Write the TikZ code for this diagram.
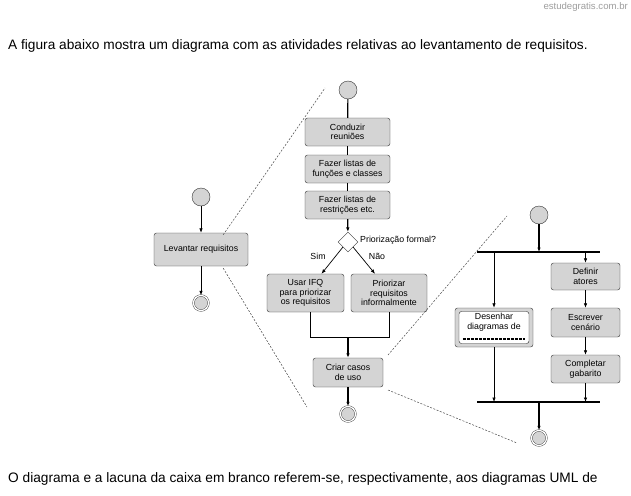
\documentclass[tikz,border=0pt]{standalone}
\usepackage{fontspec}
\setmainfont{Liberation Sans}
\usetikzlibrary{arrows.meta,shapes.geometric,positioning}

\tikzset{
    atividade/.style={draw=black!80, fill=black!17, rounded corners=2.5pt, align=center,
        font=\fontsize{8.8}{9.6}\selectfont, inner sep=1pt},
    inicio/.style={circle, draw=black!80, fill=black!17, minimum size=18pt, inner sep=0pt},
    fim/.style={circle, draw=black!80, double=white, double distance=1.3pt, fill=black!17,
        minimum size=15pt, inner sep=0pt},
    decisao/.style={diamond, draw=black!80, fill=white, minimum size=20pt, inner sep=0pt},
    seta/.style={line width=1.2pt, -{Latex[length=4.5pt,width=3.5pt]}},
    fina/.style={line width=0.7pt, -{Latex[length=4.5pt,width=3.5pt]}},
    liga/.style={line width=0.7pt},
    barra/.style={line width=2.4pt},
    zoomline/.style={black!70, line width=0.5pt, dash pattern=on 2pt off 1.5pt},
    rotulo/.style={font=\fontsize{8.8}{9.6}\selectfont, inner sep=1pt},
    corpo/.style={font=\fontsize{13.7}{15}\selectfont, anchor=west, inner sep=0pt}
}

\begin{document}
\begin{tikzpicture}[x=1pt, y=-1pt]
    \useasboundingbox[fill=white] (0,0) rectangle (631,495);
    % Texts
    \node[font=\fontsize{9.6}{10}\selectfont, text=black!38, anchor=east, inner sep=0pt] (marca) at (628,7) {estudegratis.com.br};
    \node[corpo] (enunciado) at (8,46) {A figura abaixo mostra um diagrama com as atividades relativas ao levantamento de requisitos.};
    \node[corpo] (pergunta) at (8,479) {O diagrama e a lacuna da caixa em branco referem-se, respectivamente, aos diagramas UML de};

    % Left diagram
    \node[inicio] (ini1) at (201,197) {};
    \node[atividade, minimum width=94pt, minimum height=33pt] (levantar) at (201,249.5) {Levantar requisitos};
    \node[fim] (fim1) at (201,303) {};
    \draw[fina] (ini1) -- (levantar);
    \draw[fina] (levantar) -- (fim1);

    % Middle diagram
    \node[inicio] (ini2) at (348,90) {};
    \node[atividade, minimum width=85pt, minimum height=28pt] (conduzir) at (347.5,132) {Conduzir\\reuniões};
    \node[atividade, minimum width=85pt, minimum height=28pt] (funcoes) at (347.5,169) {Fazer listas de\\funções e classes};
    \node[atividade, minimum width=85pt, minimum height=28pt] (restricoes) at (347.5,205) {Fazer listas de\\restrições etc.};
    \node[decisao] (dec) at (348,242) {};
    \node[rotulo, anchor=west] (formal) at (359,240) {Priorização formal?};
    \node[atividade, minimum width=77pt, minimum height=38pt] (ifq) at (305.5,293) {Usar IFQ\\para priorizar\\os requisitos};
    \node[atividade, minimum width=76pt, minimum height=38pt] (informal) at (389,293) {Priorizar\\requisitos\\informalmente};
    \node[atividade, minimum width=70pt, minimum height=29pt] (criar) at (348,372.5) {Criar casos\\de uso};
    \node[fim] (fim2) at (348,414) {};
    \node[rotulo] (sim) at (318,256) {Sim};
    \node[rotulo] (nao) at (377,256) {Não};
    \coordinate (j1) at (310,337);
    \coordinate (j2) at (389,337);
    \coordinate (jm) at (348,337);
    \draw[line width=1.2pt] (ini2) -- (conduzir);
    \draw[line width=1.2pt] (conduzir) -- (funcoes);
    \draw[line width=1.2pt] (funcoes) -- (restricoes);
    \draw[seta] (restricoes) -- (dec);
    \draw[fina] (dec.south west) -- ([xshift=16pt]ifq.north);
    \draw[fina] (dec.south east) -- ([xshift=-14pt]informal.north);
    \draw[liga] (ifq.south -| j1) -- (j1) -- (j2) -- (informal.south -| j2);
    \draw[seta] (jm) -- (criar);
    \draw[seta] (criar) -- (fim2);

    % Right diagram
    \node[inicio] (ini3) at (539,215) {};
    \coordinate (f1) at (477,252);
    \coordinate (f2) at (600,252);
    \coordinate (g1) at (477,402);
    \coordinate (g2) at (600,402);
    \node[atividade, minimum width=78pt, minimum height=39pt] (desenhar) at (494,327.5) {};
    \node[draw=black!85, fill=white, rounded corners=2.5pt, minimum width=70pt, minimum height=32pt] (lacuna) at (494,327.5) {};
    \node[rotulo, align=center] (texto) at (494,322) {Desenhar\\diagramas de};
    \draw[line width=1.6pt, dash pattern=on 3pt off 1pt] ([xshift=4pt,yshift=4.5pt]lacuna.south west) -- ([xshift=-4pt,yshift=4.5pt]lacuna.south east);
    \node[atividade, minimum width=69pt, minimum height=27pt] (definir) at (585.5,276.5) {Definir\\atores};
    \node[atividade, minimum width=69pt, minimum height=29pt] (escrever) at (585.5,322.5) {Escrever\\cenário};
    \node[atividade, minimum width=69pt, minimum height=28pt] (completar) at (585.5,369) {Completar\\gabarito};
    \node[fim] (fim3) at (539,438) {};
    \draw[barra] (f1) -- (f2);
    \draw[barra] (g1) -- (g2);
    \draw[seta] (ini3) -- (ini3 |- f1);
    \draw[fina] (desenhar |- f1) -- (desenhar);
    \draw[fina] (desenhar) -- (desenhar |- g1);
    \draw[fina] (definir |- f1) -- (definir);
    \draw[fina] (definir) -- (escrever);
    \draw[fina] (escrever) -- (completar);
    \draw[fina] (completar) -- (completar |- g1);
    \draw[seta] (ini3 |- g1) -- (fim3);

    % Zoom lines
    \draw[zoomline] (levantar.north east) ++(-25pt,-2pt) coordinate (z1) -- (325,88);
    \draw[zoomline] (levantar.south east) ++(-25pt,-2pt) coordinate (z2) -- (307,407);
    \draw[zoomline] (388,355) -- (507,216);
    \draw[zoomline] (388,390) -- (517,443);
\end{tikzpicture}
\end{document}
